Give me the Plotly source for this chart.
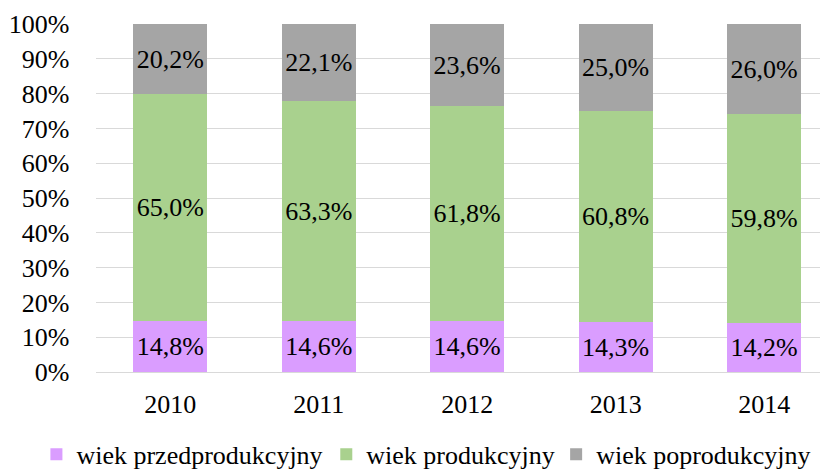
import plotly.graph_objects as go

years = ["2010", "2011", "2012", "2013", "2014"]
series_names = ["wiek przedprodukcyjny", "wiek produkcyjny", "wiek poprodukcyjny"]
pre_prod = [14.8, 14.6, 14.6, 14.3, 14.2]
prod = [65.0, 63.3, 61.8, 60.8, 59.8]
post_prod = [20.2, 22.1, 23.6, 25.0, 26.0]
colors = ["#DA9DFF", "#A9D18E", "#A5A5A5"]
y_ticks = [0, 10, 20, 30, 40, 50, 60, 70, 80, 90, 100]

FONT = "Liberation Serif"
FS = 26

def fmt(v):
    return f"{v:.1f}%".replace(".", ",")

legend_ids = ["legend", "legend2", "legend3"]
legend_x = [-0.0814, 0.3146, 0.6286]

fig = go.Figure()
for name, vals, col, lid in zip(series_names, [pre_prod, prod, post_prod], colors, legend_ids):
    fig.add_trace(go.Bar(
        x=years, y=vals, name=name, legend=lid,
        marker=dict(color=col, line=dict(width=0)),
        text=[fmt(v) for v in vals],
        textposition="inside", insidetextanchor="middle", textangle=0,
        textfont=dict(family=FONT, size=FS, color="black"),
        constraintext="none",
        hoverinfo="skip",
    ))

def leg(x):
    return dict(
        orientation="h", xref="paper", x=x, xanchor="left",
        yref="paper", y=-0.2367, yanchor="middle",
        font=dict(family=FONT, size=FS, color="black"),
        itemwidth=30, bgcolor="rgba(0,0,0,0)",
    )

# page body has an 8px margin, so the figure is 820x463 placed at (8, 8)
fig.update_layout(
    barmode="stack",
    bargap=0.5,
    width=820, height=463,
    margin=dict(l=87.6, r=0, t=16, b=98.5, autoexpand=False),
    paper_bgcolor="white", plot_bgcolor="white",
    font=dict(family=FONT, size=FS, color="black"),
    showlegend=True,
    legend=leg(legend_x[0]),
    legend2=leg(legend_x[1]),
    legend3=leg(legend_x[2]),
    uniformtext=dict(mode=False),
)
fig.update_xaxes(
    range=[-0.5, 4.43], showgrid=False, zeroline=False, showline=False,
    ticks="outside", ticklen=9, tickcolor="rgba(0,0,0,0)",
    tickfont=dict(family=FONT, size=FS, color="black"),
    automargin=False, tickangle=0,
)
fig.update_yaxes(
    range=[0, 100], tickvals=y_ticks, ticktext=[f"{v}%" for v in y_ticks],
    showgrid=True, gridcolor="#D9D9D9", gridwidth=1.3,
    zeroline=True, zerolinecolor="#D9D9D9", zerolinewidth=1.3,
    showline=False,
    ticks="outside", ticklen=20.5, tickcolor="rgba(0,0,0,0)",
    tickfont=dict(family=FONT, size=FS, color="black"),
    automargin=False,
)

fig.write_html("out.html")
